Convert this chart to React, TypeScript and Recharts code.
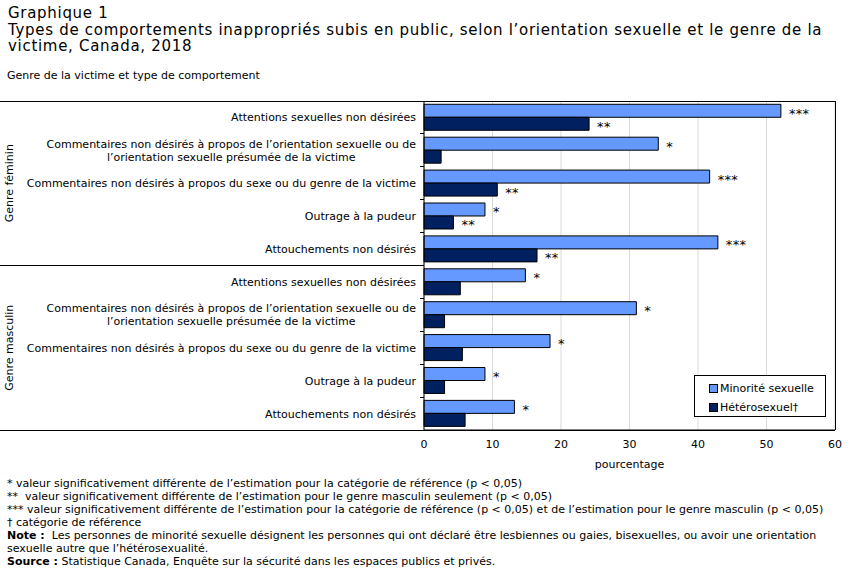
import { BarChart, Bar, XAxis, YAxis, CartesianGrid, Legend, LabelList } from "recharts";

// ==============================
// DATA
// ==============================
const behaviours: string[][] = [
    ["Attentions sexuelles non désirées"],
    [
        "Commentaires non désirés à propos de l’orientation sexuelle ou de",
        "l’orientation sexuelle présumée de la victime"
    ],
    ["Commentaires non désirés à propos du sexe ou du genre de la victime"],
    ["Outrage à la pudeur"],
    ["Attouchements non désirés"]
];

const genders = ["Genre féminin", "Genre masculin"];

const femaleMinority = [52.1, 34.2, 41.7, 8.9, 42.9];
const femaleHetero = [24.1, 2.5, 10.7, 4.3, 16.5];
const maleMinority = [14.8, 31.0, 18.4, 8.9, 13.2];
const maleHetero = [5.3, 3.0, 5.6, 3.0, 6.0];

const femaleMinorityFlags = ["***", "*", "***", "*", "***"];
const femaleHeteroFlags = ["**", "", "**", "**", "**"];
const maleMinorityFlags = ["*", "*", "*", "*", "*"];
const maleHeteroFlags = ["", "", "", "", ""];

const xTicks = [0, 10, 20, 30, 40, 50, 60];

const seriesNames = ["Minorité sexuelle", "Hétérosexuel†"];

const footnotes: [string, string][] = [
    ["", "* valeur significativement différente de l’estimation pour la catégorie de référence (p < 0,05)"],
    ["", "**  valeur significativement différente de l’estimation pour le genre masculin seulement (p < 0,05)"],
    ["", "*** valeur significativement différente de l’estimation pour la catégorie de référence (p < 0,05) et de l’estimation pour le genre masculin (p < 0,05)"],
    ["", "† catégorie de référence"],
    ["Note :", "  Les personnes de minorité sexuelle désignent les personnes qui ont déclaré être lesbiennes ou gaies, bisexuelles, ou avoir une orientation"],
    ["", "sexuelle autre que l’hétérosexualité."],
    ["Source :", " Statistique Canada, Enquête sur la sécurité dans les espaces publics et privés."]
];

// ==============================
// LAYOUT
// ==============================
const W = 852;
const H = 574;
const PLOT = { left: 424, right: 835, top: 101, bottom: 430 };
const X_AXIS_H = 40;

const LIGHT = "#6699ff";
const DARK = "#002060";
const FONT = "'DejaVu Sans', Verdana, sans-serif";

const rows = [
    ...behaviours.map((_, i) => ({
        id: `f${i}`,
        minority: femaleMinority[i],
        hetero: femaleHetero[i],
        minorityFlag: femaleMinorityFlags[i],
        heteroFlag: femaleHeteroFlags[i]
    })),
    ...behaviours.map((_, i) => ({
        id: `m${i}`,
        minority: maleMinority[i],
        hetero: maleHetero[i],
        minorityFlag: maleMinorityFlags[i],
        heteroFlag: maleHeteroFlags[i]
    }))
];

const measureCtx =
    typeof document !== "undefined"
        ? document.createElement("canvas").getContext("2d")
        : null;

function textWidth(text: string, font: string) {
    if (!measureCtx) return text.length * 6;
    measureCtx.font = font;
    return measureCtx.measureText(text).width;
}

// category tick: one line right-aligned, two lines centred on each other
function CategoryTick(props: any) {
    const { x, y, payload } = props;
    const idx = Number(String(payload.value).slice(1));
    const lines = behaviours[idx];
    if (lines.length === 1) {
        return (
            <text x={x} y={y + 4} textAnchor="end" fontSize={11} fontFamily={FONT} fill="#000">
                {lines[0]}
            </text>
        );
    }
    const w = textWidth(lines[0], `11px ${FONT}`);
    const cx = x - w / 2;
    return (
        <text textAnchor="middle" fontSize={11} fontFamily={FONT} fill="#000">
            {lines.map((line, i) => (
                <tspan key={i} x={cx} y={y + 4 - 6.5 + i * 13}>
                    {line}
                </tspan>
            ))}
        </text>
    );
}

function Flag(props: any) {
    const { x, y, width, height, value } = props;
    if (!value) return null;
    return (
        <text
            x={x + width + 8}
            y={y + height / 2 + 7}
            fontSize={13}
            fontFamily={FONT}
            letterSpacing={0.3}
            fill="#000"
        >
            {value}
        </text>
    );
}

function LegendBox() {
    return (
        <div
            style={{
                border: "1px solid #000",
                background: "#fff",
                boxSizing: "border-box",
                width: 132,
                height: 42,
                padding: "3px 0 0 14px",
                fontFamily: FONT,
                fontSize: 11,
                color: "#000"
            }}
        >
            {seriesNames.map((name, i) => (
                <div key={name} style={{ display: "flex", alignItems: "center", height: 19 }}>
                    <span
                        style={{
                            display: "inline-block",
                            width: 7,
                            height: 7,
                            border: "1px solid #000",
                            background: i === 0 ? LIGHT : DARK,
                            marginRight: 2
                        }}
                    />
                    {name}
                </div>
            ))}
        </div>
    );
}

export default function App() {
    const bandH = (PLOT.bottom - PLOT.top) / rows.length;
    const midY = (PLOT.top + PLOT.bottom) / 2;

    return (
        <div
            style={{
                position: "absolute",
                left: 0,
                top: 0,
                width: W,
                height: H,
                background: "#fff",
                fontFamily: FONT,
                color: "#000",
                overflow: "hidden"
            }}
        >
            {/* TITLE */}
            <div
                style={{
                    position: "absolute",
                    left: 8,
                    top: 5,
                    fontSize: 15,
                    letterSpacing: "0.7px",
                    lineHeight: "16.5px",
                    whiteSpace: "nowrap"
                }}
            >
                <div>Graphique 1</div>
                <div>Types de comportements inappropriés subis en public, selon l’orientation sexuelle et le genre de la</div>
                <div>victime, Canada, 2018</div>
            </div>

            <div style={{ position: "absolute", left: 7, top: 69, fontSize: 11, lineHeight: "13px", whiteSpace: "nowrap" }}>
                Genre de la victime et type de comportement
            </div>

            {/* CHART */}
            <div style={{ position: "absolute", left: 0, top: 0 }}>
                <BarChart
                    width={W}
                    height={H}
                    layout="vertical"
                    data={rows}
                    margin={{ top: PLOT.top, right: W - PLOT.right, bottom: H - PLOT.bottom - X_AXIS_H, left: 0 }}
                    barCategoryGap="10%"
                    barGap={0}
                >
                    <CartesianGrid horizontal={false} stroke="#d9d9d9" />
                    <XAxis
                        type="number"
                        domain={[0, 60]}
                        ticks={xTicks}
                        interval={0}
                        height={X_AXIS_H}
                        tickLine={false}
                        tickSize={0}
                        tickMargin={10}
                        axisLine={{ stroke: "#000" }}
                        tick={{ fontSize: 11, fontFamily: FONT, fill: "#000" }}
                        label={{
                            value: "pourcentage",
                            position: "insideBottom",
                            offset: 2,
                            fontSize: 11,
                            fontFamily: FONT,
                            fill: "#000"
                        }}
                    />
                    <YAxis
                        type="category"
                        dataKey="id"
                        width={PLOT.left}
                        tickLine={false}
                        tickSize={0}
                        tickMargin={8}
                        interval={0}
                        axisLine={{ stroke: "#000" }}
                        tick={<CategoryTick />}
                    />
                    <Legend
                        layout="vertical"
                        align="center"
                        verticalAlign="middle"
                        content={<LegendBox />}
                        wrapperStyle={{ left: 694, top: 375, width: 132, height: 42 }}
                    />
                    <Bar dataKey="minority" name={seriesNames[0]} fill={LIGHT} stroke="#000" strokeWidth={1} isAnimationActive={false}>
                        <LabelList dataKey="minorityFlag" content={<Flag />} />
                    </Bar>
                    <Bar dataKey="hetero" name={seriesNames[1]} fill={DARK} stroke="#000" strokeWidth={1} isAnimationActive={false}>
                        <LabelList dataKey="heteroFlag" content={<Flag />} />
                    </Bar>
                </BarChart>
            </div>

            {/* FRAME AND GROUP LABELS */}
            <svg
                width={W}
                height={H}
                style={{ position: "absolute", left: 0, top: 0, pointerEvents: "none" }}
            >
                <g stroke="#000" strokeWidth={1} shapeRendering="crispEdges">
                    <line x1={0} y1={PLOT.top} x2={PLOT.right} y2={PLOT.top} />
                    <line x1={0} y1={PLOT.bottom} x2={PLOT.right} y2={PLOT.bottom} />
                    <line x1={0} y1={midY} x2={PLOT.left} y2={midY} />
                    <line x1={PLOT.right} y1={PLOT.top} x2={PLOT.right} y2={PLOT.bottom} />
                    {rows.map((_, i) => (
                        <line
                            key={i}
                            x1={PLOT.left - 4}
                            y1={PLOT.top + i * bandH}
                            x2={PLOT.left}
                            y2={PLOT.top + i * bandH}
                        />
                    ))}
                </g>
                {genders.map((g, i) => {
                    const cy = PLOT.top + (i + 0.5) * (PLOT.bottom - PLOT.top) / 2;
                    return (
                        <text
                            key={g}
                            transform={`translate(13, ${cy}) rotate(-90)`}
                            textAnchor="middle"
                            fontSize={11}
                            fontFamily={FONT}
                            fill="#000"
                        >
                            {g}
                        </text>
                    );
                })}
            </svg>

            {/* FOOTNOTES */}
            <div style={{ position: "absolute", left: 7, top: 477, fontSize: 11, lineHeight: "13px", whiteSpace: "pre" }}>
                {footnotes.map(([bold, rest], i) => (
                    <div key={i}>
                        {bold && <b>{bold}</b>}
                        {rest}
                    </div>
                ))}
            </div>
        </div>
    );
}
